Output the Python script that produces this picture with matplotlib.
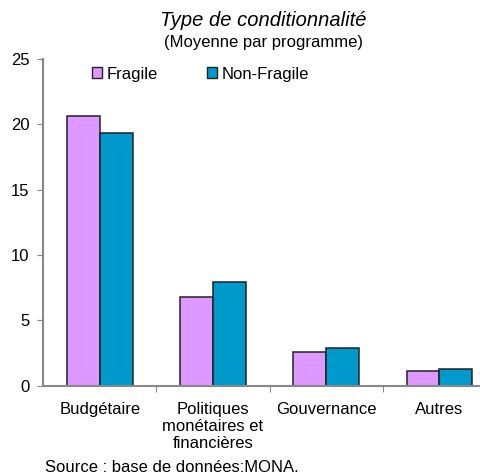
import matplotlib
matplotlib.use("Agg")
import matplotlib.pyplot as plt
from matplotlib.patches import Patch
import numpy as np

categories = ["Budgétaire", "Politiques\nmonétaires et\nfinancières", "Gouvernance", "Autres"]
fragile = [20.6, 6.75, 2.6, 1.1]
non_fragile = [19.35, 7.9, 2.85, 1.28]
series_names = ["Fragile", "Non-Fragile"]
yticks = [0, 5, 10, 15, 20, 25]

plt.rcParams['font.family'] = ['Liberation Sans', 'DejaVu Sans']

fig = plt.figure(figsize=(4.8, 4.74), dpi=100)
ax = fig.add_axes([43.3/480, 1-385.5/474, (496-43.3)/480, (385.5-59)/474])

x = np.arange(len(categories))
w = 0.29
c_frag = "#DD99FF"
c_nf = "#0099CC"
ax.bar(x - w/2, fragile, w, color=c_frag, edgecolor="#222222", linewidth=1.1)
ax.bar(x + w/2, non_fragile, w, color=c_nf, edgecolor="#222222", linewidth=1.1)

ax.set_xlim(-0.5, len(categories) - 0.5)
ax.set_ylim(0, 25)
ax.set_yticks(yticks)
ax.set_yticklabels([str(v) for v in yticks], fontsize=12)
ax.set_xticks(np.arange(len(categories)) - 0.5 + 1)
ax.set_xticklabels([])
ax.set_xticks(x, minor=True)
ax.set_xticklabels(categories, minor=True, fontsize=12, linespacing=1.15)
ax.tick_params(axis='x', which='minor', length=0, pad=12)
ax.tick_params(axis='x', which='major', length=4, color="#888888", direction='out')
ax.tick_params(axis='y', length=4, color="#888888", direction='out', pad=6)

for s in ["top", "right"]:
    ax.spines[s].set_visible(False)
for s in ["left", "bottom"]:
    ax.spines[s].set_color("#888888")
    ax.spines[s].set_linewidth(1.5)

fig.text(263/480, 1-21/474, "Type de conditionnalité", ha="center", va="center",
         fontsize=14.5, style="italic")
fig.text(263/480, 1-43/474, "(Moyenne par programme)", ha="center", va="center",
         fontsize=12)

handles = [Patch(facecolor=c_frag, edgecolor="#222222", linewidth=1.0),
           Patch(facecolor=c_nf, edgecolor="#222222", linewidth=1.0)]
fig.legend(handles, series_names, loc="center left", bbox_to_anchor=(92/480, 1-74/474),
           ncol=2, frameon=False, fontsize=12, handlelength=0.6, handleheight=0.6,
           handletextpad=0.25, columnspacing=3.0, borderaxespad=0, borderpad=0)

fig.text(45/480, 1-467/474, "Source : base de données:MONA.", ha="left", va="center",
         fontsize=12)

fig.savefig("out.png", dpi=100)
